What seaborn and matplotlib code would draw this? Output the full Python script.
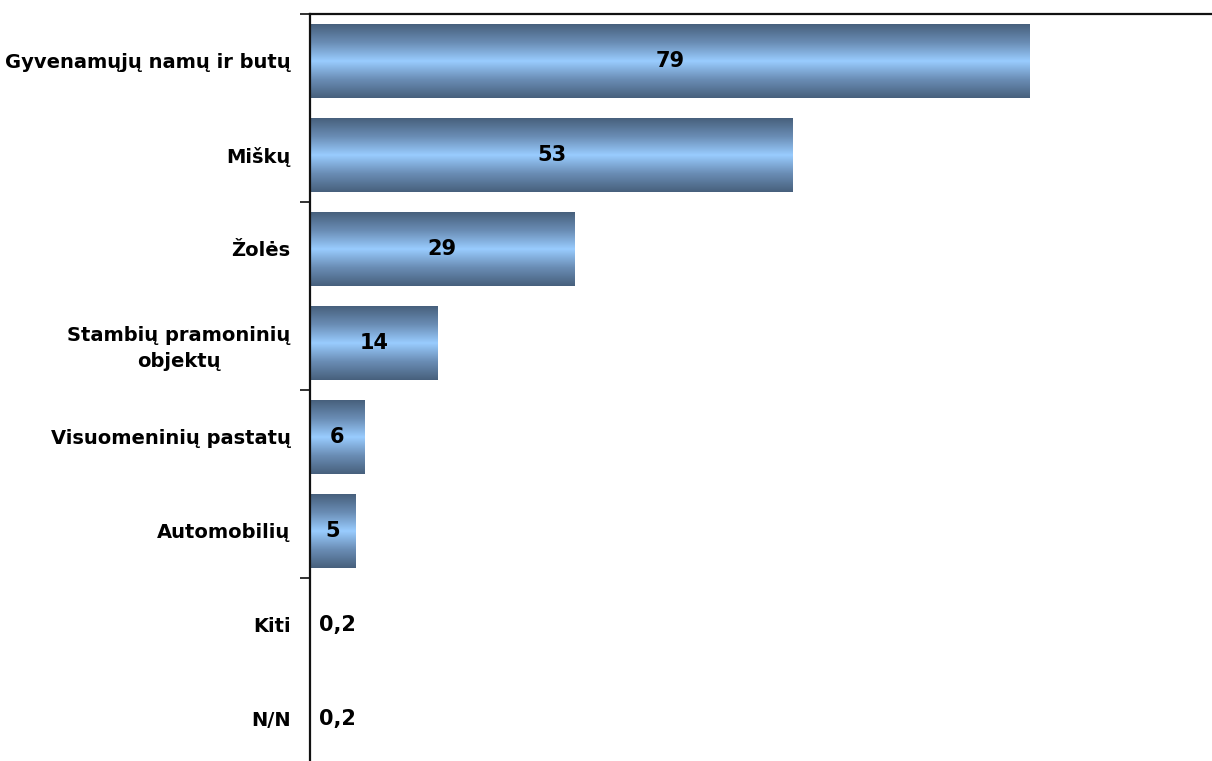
import numpy as np
import pandas as pd
import seaborn as sns
import matplotlib.pyplot as plt
from matplotlib.colors import LinearSegmentedColormap

categories = ['Gyvenamųjų namų ir butų', 'Miškų', 'Žolės',
              'Stambių pramoninių\nobjektų', 'Visuomeninių pastatų',
              'Automobilių', 'Kiti', 'N/N']
values = [79, 53, 29, 14, 6, 5, 0.2, 0.2]
value_labels = ['79', '53', '29', '14', '6', '5', '0,2', '0,2']

df = pd.DataFrame({'cat': categories, 'val': values})

sns.set_style('white')
plt.rcParams['font.family'] = ['DejaVu Sans']
plt.rcParams['text.color'] = 'black'
plt.rcParams['ytick.color'] = 'black'
plt.rcParams['ytick.labelcolor'] = 'black'

fig = plt.figure(figsize=(12.12, 7.61), dpi=100)
ax = fig.add_axes([310 / 1212, -5 / 761, 902 / 1212, 752 / 761])

sns.barplot(data=df, x='val', y='cat', orient='h', width=0.78,
            color='#99ccff', ax=ax)

# gradient fill: dark edges, light blue centre
cmap = LinearSegmentedColormap.from_list(
    'bar', ['#47607c', '#6a8db5', '#99ccff', '#6a8db5', '#47607c'])
grad = np.linspace(0, 1, 256).reshape(-1, 1)
for p in ax.patches:
    x0, y0 = p.get_x(), p.get_y()
    w, h = p.get_width(), p.get_height()
    if w <= 0.5:
        p.set_visible(False)
        continue
    im = ax.imshow(grad, cmap=cmap, aspect='auto',
                   extent=(x0, x0 + w, y0 + h, y0), zorder=2,
                   interpolation='bilinear')
    im.set_clip_path(p)
    p.set_facecolor('none')
    p.set_edgecolor('none')

ax.set_xlim(0, 99)
ax.set_ylim(7.5, -0.5)

# value labels
for i, (v, lab) in enumerate(zip(values, value_labels)):
    if v >= 1:
        ax.text(v / 2, i, lab, ha='center', va='center', color='black',
                fontsize=15, fontweight='bold', zorder=3)
    else:
        ax.text(v + 0.8, i, lab, ha='left', va='center', color='black',
                fontsize=15, fontweight='bold', zorder=3)

ax.set_xlabel('')
ax.set_ylabel('')
ax.set_xticks([])
ax.set_yticks(range(len(categories)))
ax.set_yticklabels(categories, fontsize=14, fontweight='bold',
                   multialignment='center', linespacing=1.45)
ax.set_yticks([-0.5, 1.5, 3.5, 5.5, 7.5], minor=True)
ax.tick_params(axis='y', which='major', length=0, pad=14)
ax.tick_params(axis='y', which='minor', length=7, width=1.3,
               color='#222222', direction='out', left=True)

for s in ['right', 'bottom']:
    ax.spines[s].set_visible(False)
for s in ['left', 'top']:
    ax.spines[s].set_visible(True)
    ax.spines[s].set_color('#111111')
    ax.spines[s].set_linewidth(1.6)

plt.savefig('out.png', dpi=100)
